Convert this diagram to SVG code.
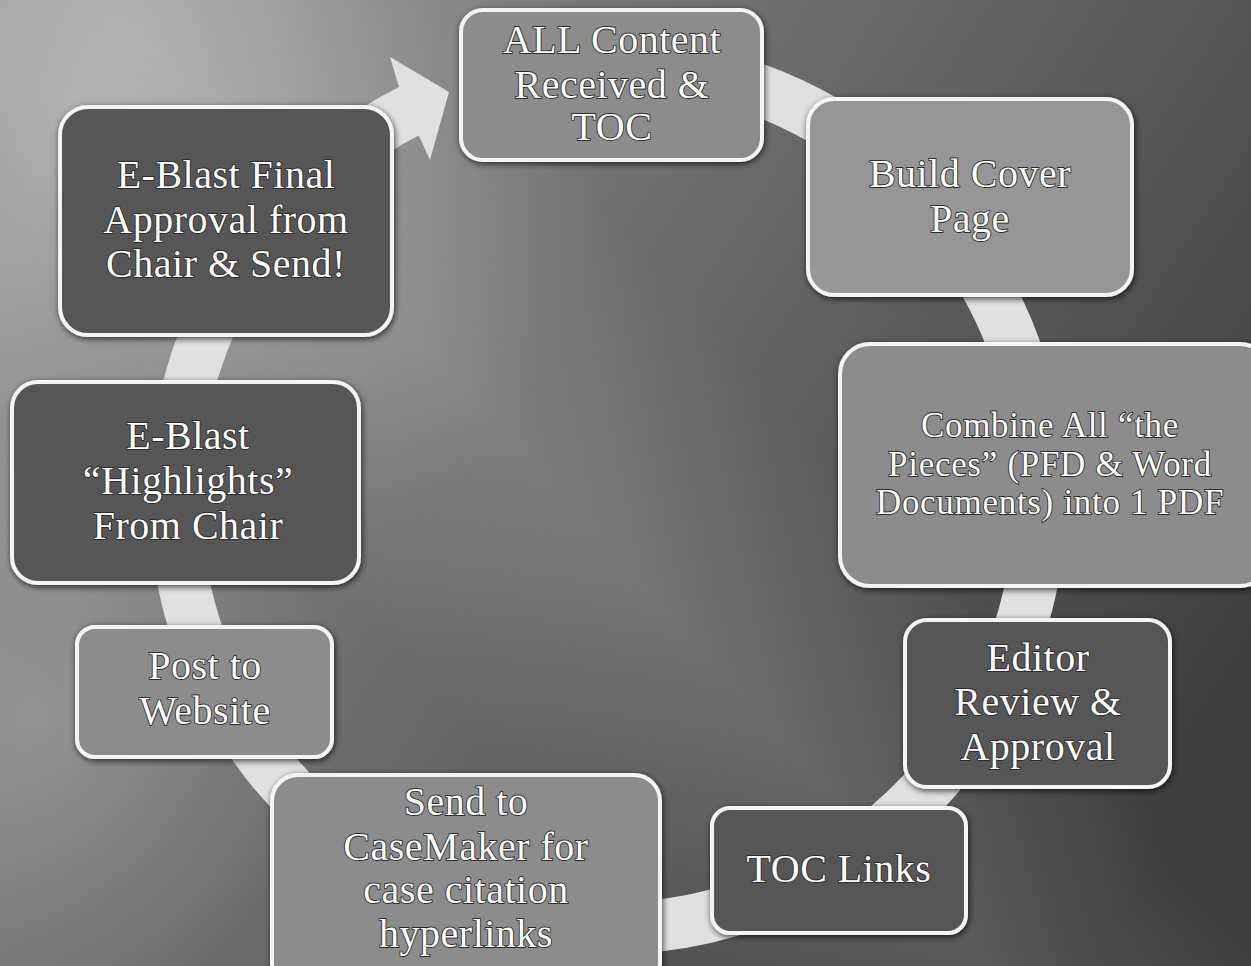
<svg xmlns="http://www.w3.org/2000/svg" width="1251" height="966" viewBox="0 0 1251 966">
  <defs>
    <linearGradient id="bg" x1="0" y1="0.25" x2="1" y2="0.75">
      <stop offset="0" stop-color="#8c8c8c"/>
      <stop offset="0.45" stop-color="#6a6a6a"/>
      <stop offset="1" stop-color="#3c3c3c"/>
    </linearGradient>
    <radialGradient id="glow" cx="90" cy="120" r="520" gradientUnits="userSpaceOnUse">
      <stop offset="0" stop-color="#ffffff" stop-opacity="0.28"/>
      <stop offset="1" stop-color="#ffffff" stop-opacity="0"/>
    </radialGradient>
    <linearGradient id="band" gradientUnits="userSpaceOnUse" x1="180" y1="420" x2="520" y2="110">
      <stop offset="0" stop-color="#ffffff" stop-opacity="0"/>
      <stop offset="0.5" stop-color="#ffffff" stop-opacity="0.12"/>
      <stop offset="1" stop-color="#ffffff" stop-opacity="0"/>
    </linearGradient>
    <radialGradient id="glow2" cx="40" cy="720" r="300" gradientUnits="userSpaceOnUse">
      <stop offset="0" stop-color="#ffffff" stop-opacity="0.18"/>
      <stop offset="1" stop-color="#ffffff" stop-opacity="0"/>
    </radialGradient>
    <filter id="shadow" x="-10%" y="-10%" width="120%" height="120%">
      <feDropShadow dx="1" dy="2" stdDeviation="3" flood-color="#000" flood-opacity="0.7"/>
    </filter>
    <style>
      .box { stroke: #f4f4f4; stroke-width: 4; filter: url(#shadow); }
      .light { fill: #8c8c8c; }
      .lighter { fill: #969696; }
      .dark { fill: #575757; }
      .lbl { font-family: "Liberation Serif", "DejaVu Serif", serif; font-size: 40px; fill: #ffffff; stroke: #2a2a2a; stroke-width: 1.8; paint-order: stroke; text-anchor: middle; letter-spacing: 0.5px; }
      .sm { font-size: 35px; letter-spacing: 0.7px; }
      .ring { fill: none; stroke: #e0e0e0; stroke-width: 52; }
    </style>
  </defs>

  <!-- background -->
  <rect x="0" y="0" width="1251" height="966" fill="url(#bg)"/>
  <rect x="0" y="0" width="1251" height="966" fill="url(#glow)"/>
  <rect x="0" y="0" width="1251" height="966" fill="url(#glow2)"/>
  <rect x="0" y="0" width="1251" height="966" fill="url(#band)"/>

  <!-- connectors -->
  <g id="connectors">
    <path class="ring" d="M 480 82 A 433 433 0 1 1 411 110"/>
    <polygon points="390,57 449,92 430,160 418,134 398,84" fill="#e0e0e0"/>
  </g>

  <g id="n1">
    <rect class="box light" x="461" y="10" width="301" height="150" rx="22"/>
    <text class="lbl"><tspan x="612" y="53">ALL Content</tspan><tspan x="612" y="98">Received &amp;</tspan><tspan x="612" y="140">TOC</tspan></text>
  </g>

  <g id="n2">
    <rect class="box lighter" x="808" y="99" width="324" height="196" rx="26"/>
    <text class="lbl"><tspan x="970" y="187">Build Cover</tspan><tspan x="970" y="232">Page</tspan></text>
  </g>

  <g id="n3">
    <rect class="box light" x="840" y="344" width="430" height="242" rx="30"/>
    <text class="lbl sm"><tspan x="1050" y="437">Combine All “the</tspan><tspan x="1050" y="476">Pieces” (PFD &amp; Word</tspan><tspan x="1050" y="514">Documents) into 1 PDF</tspan></text>
  </g>

  <g id="n4">
    <rect class="box dark" x="905" y="620" width="265" height="167" rx="22"/>
    <text class="lbl"><tspan x="1038" y="671">Editor</tspan><tspan x="1038" y="715">Review &amp;</tspan><tspan x="1038" y="760">Approval</tspan></text>
  </g>

  <g id="n5">
    <rect class="box dark" x="712" y="808" width="254" height="125" rx="18"/>
    <text class="lbl"><tspan x="839" y="882">TOC Links</tspan></text>
  </g>

  <g id="n6">
    <rect class="box light" x="272" y="775" width="388" height="215" rx="26"/>
    <text class="lbl"><tspan x="466" y="815">Send to</tspan><tspan x="466" y="860">CaseMaker for</tspan><tspan x="466" y="903">case citation</tspan><tspan x="466" y="947">hyperlinks</tspan></text>
  </g>

  <g id="n7">
    <rect class="box light" x="77" y="627" width="255" height="130" rx="18"/>
    <text class="lbl"><tspan x="205" y="679">Post to</tspan><tspan x="205" y="724">Website</tspan></text>
  </g>

  <g id="n8">
    <rect class="box dark" x="12" y="382" width="347" height="201" rx="26"/>
    <text class="lbl"><tspan x="188" y="449">E-Blast</tspan><tspan x="188" y="494">“Highlights”</tspan><tspan x="188" y="539">From Chair</tspan></text>
  </g>

  <g id="n9">
    <rect class="box dark" x="60" y="107" width="332" height="228" rx="28"/>
    <text class="lbl"><tspan x="226" y="188">E-Blast Final</tspan><tspan x="226" y="233">Approval from</tspan><tspan x="226" y="277">Chair &amp; Send!</tspan></text>
  </g>
</svg>
